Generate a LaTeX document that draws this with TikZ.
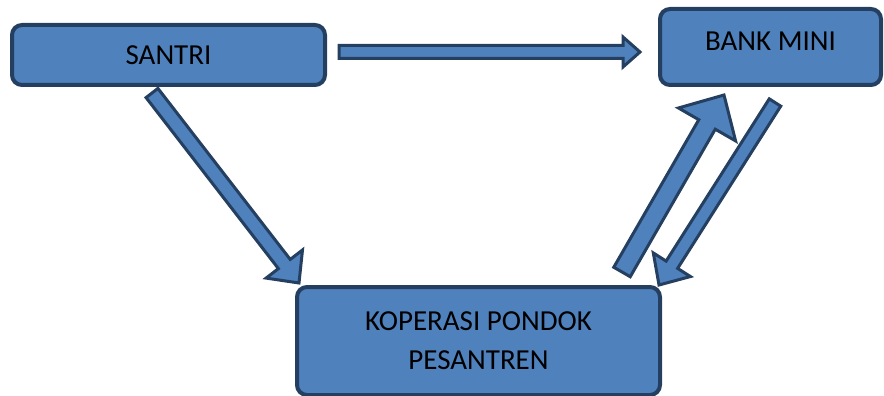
\documentclass[tikz,border=0pt]{standalone}
\usepackage{fontspec}
\setmainfont{Carlito}
\usetikzlibrary{calc}
\definecolor{boxfill}{HTML}{4F81BD}
\definecolor{boxline}{HTML}{243F60}
\tikzset{
  box/.style={draw=boxline, fill=boxfill, line width=4pt, rounded corners=10pt,
    font=\fontsize{29}{39}\selectfont, text=black, align=center, inner sep=0pt},
  blockarrow/.style={draw=boxline, fill=boxfill, line width=3pt, line join=miter}
}
% #1 start, #2 end, #3 shaft half width, #4 head half width, #5 head length
\newcommand{\blockarr}[5]{%
  \coordinate (hb) at ($(#2)!#5!(#1)$);
  \draw[blockarrow]
    ($(#1)!#3!90:(#2)$) -- ($(hb)!#3!-90:(#1)$) -- ($(hb)!#4!-90:(#1)$) -- (#2)
    -- ($(hb)!#4!90:(#1)$) -- ($(hb)!#3!90:(#1)$) -- ($(#1)!#3!-90:(#2)$) -- cycle;
}
\begin{document}
\begin{tikzpicture}[x=1pt,y=-1pt]
\useasboundingbox (0,0) rectangle (884,396);
\node[box, minimum width=313pt, minimum height=60pt] (santri) at (168.5,55) {SANTRI};
\node[box, minimum width=221pt, minimum height=76pt, text depth=12pt] (bank) at (770.5,47) {BANK MINI};
\node[box, minimum width=363pt, minimum height=108pt] (kop) at (478.5,341) {KOPERASI PONDOK\\PESANTREN};
% arrow end points
\coordinate (a1s) at (339,52);   \coordinate (a1e) at (640,52);
\coordinate (a2s) at (152,93);   \coordinate (a2e) at (299,283);
\coordinate (a3s) at (622,272);  \coordinate (a3e) at (724,95);
\coordinate (a4s) at (775,102.5);\coordinate (a4e) at (659,285);
\blockarr{a1s}{a1e}{6.5pt}{15pt}{17pt}
\blockarr{a2s}{a2e}{7.5pt}{23pt}{24pt}
\blockarr{a3s}{a3e}{9.5pt}{33pt}{34pt}
\blockarr{a4s}{a4e}{6.8pt}{22pt}{24pt}
\end{tikzpicture}
\end{document}
